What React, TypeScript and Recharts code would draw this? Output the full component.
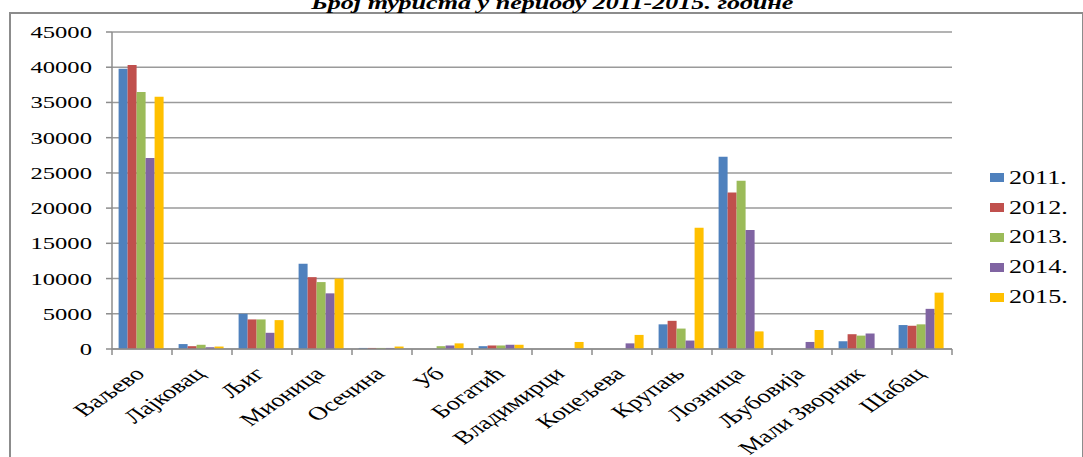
import { BarChart, Bar, XAxis, YAxis, CartesianGrid } from 'recharts';

const categories = ['Ваљево', 'Лајковац', 'Љиг', 'Мионица', 'Осечина', 'Уб', 'Богатић', 'Владимирци', 'Коцељева', 'Крупањ', 'Лозница', 'Љубовија', 'Мали Зворник', 'Шабац'];
const y2011 = [39800, 700, 5000, 12100, 150, 0, 400, 0, 0, 3500, 27300, 0, 1100, 3400];
const y2012 = [40300, 400, 4200, 10200, 150, 0, 500, 0, 0, 4000, 22200, 0, 2100, 3300];
const y2013 = [36500, 600, 4200, 9500, 150, 400, 500, 0, 0, 2900, 23900, 0, 1900, 3500];
const y2014 = [27100, 250, 2300, 7900, 150, 500, 600, 0, 800, 1200, 16900, 1000, 2200, 5700];
const y2015 = [35800, 350, 4100, 10000, 350, 800, 600, 1000, 2000, 17200, 2500, 2700, 0, 8000];
const yTicks = [0, 5000, 10000, 15000, 20000, 25000, 30000, 35000, 40000, 45000];

const series = [
    { key: 'y2011', label: '2011.', color: '#4F81BD', values: y2011 },
    { key: 'y2012', label: '2012.', color: '#C0504D', values: y2012 },
    { key: 'y2013', label: '2013.', color: '#9BBB59', values: y2013 },
    { key: 'y2014', label: '2014.', color: '#8064A2', values: y2014 },
    { key: 'y2015', label: '2015.', color: '#FFC000', values: y2015 },
];

const data = categories.map((name, i) => {
    const row: Record<string, string | number> = { name };
    series.forEach((s) => { row[s.key] = s.values[i]; });
    return row;
});

// the source picture is stretched sideways, so text is too
const STRETCH = 1.45;
const FONT = '"Liberation Serif", "Times New Roman", serif';
const AXIS = '#8c8c8c';
const PLOT_LEFT = 112;
const PLOT_RIGHT = 952;
const BAND = (PLOT_RIGHT - PLOT_LEFT) / categories.length;

const XTick = ({ x, y, payload, index }: any) => (
    <g>
        <line x1={x - BAND / 2} y1={y} x2={x - BAND / 2} y2={y + 6} stroke={AXIS} strokeWidth={1.5} />
        {index === categories.length - 1 && (
            <line x1={x + BAND / 2} y1={y} x2={x + BAND / 2} y2={y + 6} stroke={AXIS} strokeWidth={1.5} />
        )}
        <g transform={`translate(${x + 4},${y + 26})`}>
            <text transform={`scale(${STRETCH},1) rotate(-45)`} textAnchor="end" fontSize={18.5} fontFamily={FONT} fill="#000">
                {payload.value}
            </text>
        </g>
    </g>
);

const YTick = ({ x, y, payload }: any) => (
    <g transform={`translate(${x},${y})`}>
        <text transform={`scale(${STRETCH},1)`} textAnchor="end" dy="0.35em" fontSize={17} fontFamily={FONT} fill="#000">
            {payload.value}
        </text>
    </g>
);

export default function App() {
    return (
        <div style={{ position: 'absolute', left: 0, top: 0, width: 1083, height: 457, overflow: 'hidden', background: '#fff' }}>
            <div style={{ position: 'absolute', left: 9, top: 12, width: 1071, height: 500, borderTop: `2px solid ${AXIS}`, borderLeft: `2px solid ${AXIS}`, borderRight: `2px solid ${AXIS}` }} />
            <div style={{ position: 'absolute', left: 11, top: -6, width: 1083, textAlign: 'center', lineHeight: 1 }}>
                <span style={{ display: 'inline-block', fontFamily: FONT, fontSize: 18, fontWeight: 'bold', fontStyle: 'italic', transform: `scaleX(${STRETCH})` }}>
                    Број туриста у периоду 2011-2015. године
                </span>
            </div>
            <BarChart
                width={1083}
                height={457}
                data={data}
                margin={{ top: 32, right: 1083 - PLOT_RIGHT, left: 12, bottom: 8 }}
                barCategoryGap="11%"
                barGap={0}
                style={{ position: 'absolute', left: 0, top: 0 }}
            >
                <CartesianGrid vertical={false} stroke="#9a9a9a" strokeWidth={1.5} />
                <XAxis
                    dataKey="name"
                    interval={0}
                    height={100}
                    tickSize={0}
                    tickMargin={0}
                    tickLine={false}
                    axisLine={{ stroke: AXIS, strokeWidth: 1.5 }}
                    tick={(p: any) => <XTick {...p} />}
                />
                <YAxis
                    width={100}
                    domain={[0, 45000]}
                    ticks={yTicks}
                    interval={0}
                    tickSize={6}
                    tickMargin={14}
                    tickLine={{ stroke: AXIS, strokeWidth: 1.5 }}
                    axisLine={{ stroke: AXIS, strokeWidth: 1.5 }}
                    tick={(p: any) => <YTick {...p} />}
                />
                {series.map((s) => (
                    <Bar key={s.key} dataKey={s.key} name={s.label} fill={s.color} isAnimationActive={false} />
                ))}
            </BarChart>
            <div style={{ position: 'absolute', left: 990, top: 163 }}>
                {series.map((s) => (
                    <div key={s.key} style={{ display: 'flex', alignItems: 'center', height: 29.8 }}>
                        <span style={{ display: 'inline-block', width: 14, height: 9, background: s.color, marginRight: 5 }} />
                        <span style={{ display: 'inline-block', fontFamily: FONT, fontSize: 18, lineHeight: 1, transform: `scaleX(${STRETCH})`, transformOrigin: 'left center' }}>
                            {s.label}
                        </span>
                    </div>
                ))}
            </div>
        </div>
    );
}
